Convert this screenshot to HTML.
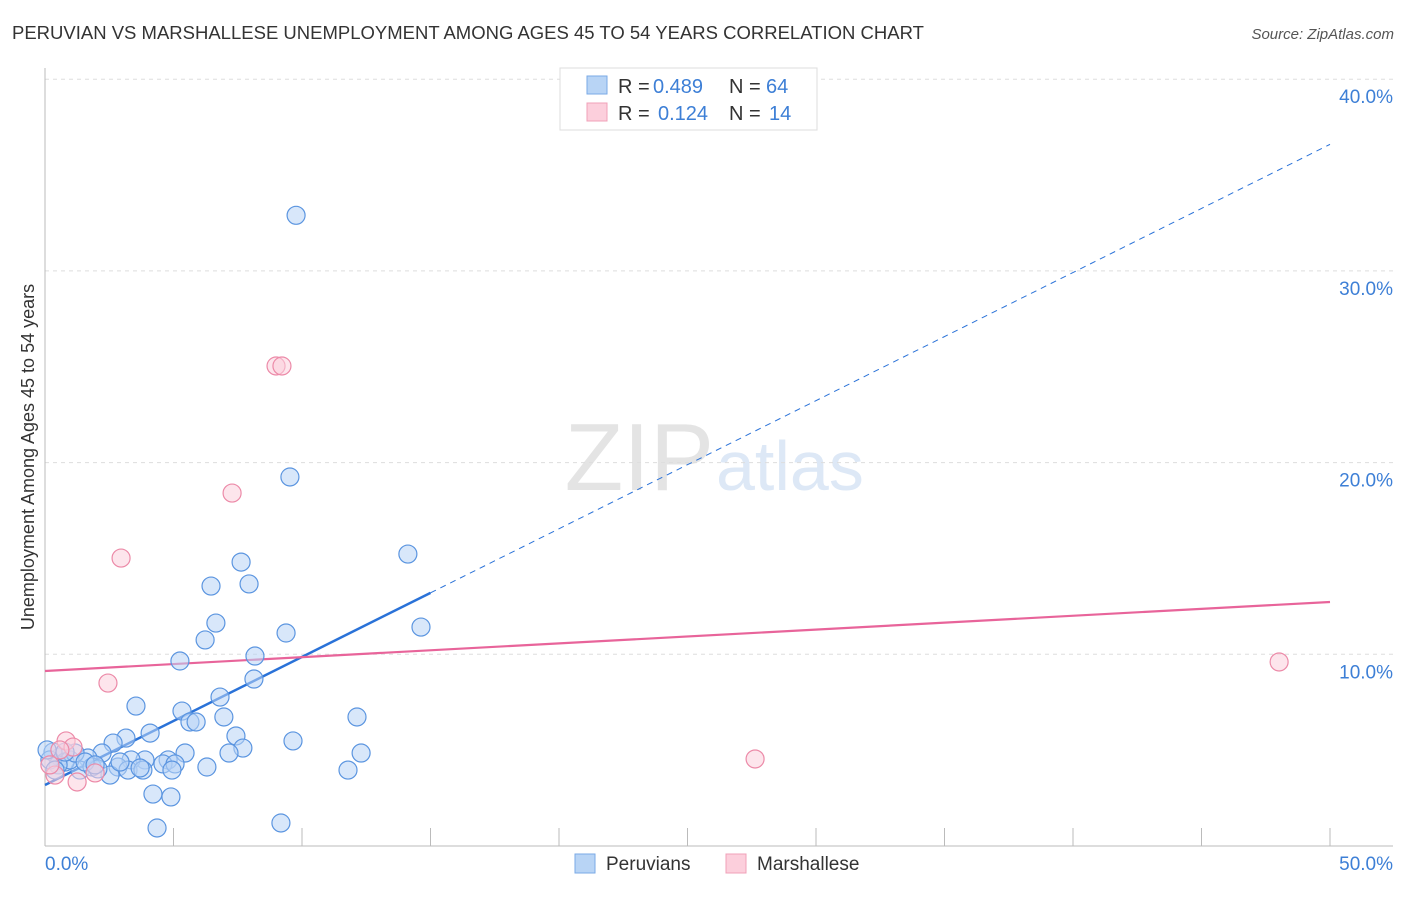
<!DOCTYPE html>
<html><head><meta charset="utf-8"><style>
body{margin:0;background:#fff;font-family:"Liberation Sans",sans-serif}
svg text{font-family:"Liberation Sans",sans-serif}
</style></head><body>
<svg id="chart" width="1406" height="892" xmlns="http://www.w3.org/2000/svg">
<text x="12" y="39" font-size="18.5" fill="#333">PERUVIAN VS MARSHALLESE UNEMPLOYMENT AMONG AGES 45 TO 54 YEARS CORRELATION CHART</text>
<text x="1394" y="39" font-size="15" fill="#555" font-style="italic" text-anchor="end">Source: ZipAtlas.com</text>
<text x="714" y="490" font-size="96" fill="#e4e4e4" text-anchor="end" font-family="Liberation Serif">ZIP</text>
<text x="716" y="490" font-size="70" fill="#dde8f6">atlas</text>
<text transform="translate(34,457) rotate(-90)" font-size="18" fill="#333" text-anchor="middle">Unemployment Among Ages 45 to 54 years</text>
<g id="grid"></g><g id="axes"></g><g id="lines"></g><g id="pts"></g>
<g font-size="20">
<rect x="560" y="68" width="257" height="62" fill="#fff" stroke="#ddd"/>
<rect x="587" y="76" width="20" height="18" fill="#b8d4f5" stroke="#7aaae6"/>
<rect x="587" y="103" width="20" height="18" fill="#fccfdc" stroke="#f0a0b8"/>
<text x="618" y="93" fill="#333">R =</text><text x="653" y="93" fill="#3d7fd6">0.489</text>
<text x="729" y="93" fill="#333">N =</text><text x="766" y="93" fill="#3d7fd6">64</text>
<text x="618" y="120" fill="#333">R =</text><text x="658" y="120" fill="#3d7fd6">0.124</text>
<text x="729" y="120" fill="#333">N =</text><text x="769" y="120" fill="#3d7fd6">14</text>
</g>
<g>
<rect x="575" y="854" width="20" height="19" fill="#b8d4f5" stroke="#7aaae6"/>
<text x="606" y="870" font-size="19" fill="#333">Peruvians</text>
<rect x="726" y="854" width="20" height="19" fill="#fccfdc" stroke="#f0a0b8"/>
<text x="757" y="870" font-size="19" fill="#333">Marshallese</text>
</g>
</svg>
<script>
const yTicks=[10,20,30,40];
const yTickLabels=["10.0%","20.0%","30.0%","40.0%"];
const xTickLabels=["0.0%","50.0%"];
const peruX=[9.77,9.53,14.12,14.63,7.63,6.46,7.94,6.65,6.23,9.38,8.17,5.25,8.13,6.81,3.54,5.33,5.64,5.88,6.96,12.14,4.09,7.43,3.15,9.65,2.65,7.70,5.45,7.16,12.30,2.22,1.67,3.89,4.79,3.35,4.59,5.06,6.30,2.84,3.23,3.81,11.79,2.53,1.36,1.83,2.06,0.58,0.31,0.78,0.97,1.17,0.51,0.19,4.20,4.90,4.36,9.18,1.56,0.78,0.08,0.39,1.95,2.92,3.70,4.94];
const peruY=[32.9,19.25,15.23,11.42,14.81,13.56,13.67,11.63,10.75,11.11,9.91,9.65,8.71,7.77,7.30,7.04,6.47,6.47,6.73,6.73,5.89,5.74,5.63,5.48,5.37,5.11,4.85,4.85,4.85,4.85,4.59,4.49,4.49,4.49,4.28,4.28,4.12,4.12,3.96,3.96,3.96,3.70,3.96,4.12,4.02,4.64,4.90,4.38,4.49,4.85,4.23,4.49,2.71,2.56,0.94,1.20,4.38,4.90,5.01,3.96,4.23,4.38,4.07,3.96];
const marshX=[8.99,9.22,7.28,2.96,2.45,48.02,27.63,0.82,1.09,0.58,0.39,1.25,1.95,0.19];
const marshY=[25.04,25.04,18.41,15.02,8.50,9.60,4.54,5.48,5.16,5.01,3.70,3.34,3.81,4.23];
const peruFit=[3.18,36.6];
const marshFit=[9.13,12.73];
const NS="http://www.w3.org/2000/svg";
const sx=v=>45+v*25.7, sy=v=>846-v*19.17;
function mk(t,a,p){const e=document.createElementNS(NS,t);for(const k in a)e.setAttribute(k,a[k]);document.getElementById(p).appendChild(e);return e;}
yTicks.forEach((t,i)=>{
 let l=mk('line',{x1:45,x2:1393,y1:sy(t),y2:sy(t),stroke:'#ddd','stroke-dasharray':'4,4'},'grid');
 
 
 let tx=mk('text',{x:1393,y:sy(t)+24,'font-size':19,fill:'#3d7fd6','text-anchor':'end'},'grid');
 tx.textContent=yTickLabels[i];
 
 
});
let ya=mk('line',{x1:45,x2:45,y1:68,y2:846,stroke:'#bbb'},'axes');


let xa=mk('line',{x1:45,x2:1393,y1:846,y2:846,stroke:'#bbb'},'axes');


for(let v=5;v<=50;v+=5){let t=mk('line',{x1:sx(v),x2:sx(v),y1:828,y2:846,stroke:'#bbb'},'axes');
 
 }
[[0,'start',45],[50,'end',1393]].forEach((d,i)=>{let t=mk('text',{x:d[2],y:870,'font-size':19,fill:'#3d7fd6','text-anchor':d[1]},'axes');t.textContent=xTickLabels[i];
 
 });
function pts(X,Y,f,s,n){X.forEach((x,i)=>{let c=mk('circle',{cx:sx(x),cy:sy(Y[i]),r:9,fill:f,'fill-opacity':0.55,stroke:s,'stroke-width':1.2},'pts');
 
 });}
pts(peruX,peruY,'#b8d4f5','#5b95e0','peruvian-point');
pts(marshX,marshY,'#fccfdc','#ec8aa8','marshallese-point');
const pAt=x=>peruFit[0]+(peruFit[1]-peruFit[0])*x/50;
let l1=mk('line',{x1:sx(0),y1:sy(pAt(0)),x2:sx(15),y2:sy(pAt(15)),stroke:'#2a72d8','stroke-width':2.5},'lines');


let l2=mk('line',{x1:sx(15),y1:sy(pAt(15)),x2:sx(50),y2:sy(pAt(50)),stroke:'#2a72d8','stroke-width':1,'stroke-dasharray':'6,5'},'lines');


let l3=mk('line',{x1:sx(0),y1:sy(marshFit[0]),x2:sx(50),y2:sy(marshFit[1]),stroke:'#e8649a','stroke-width':2.2},'lines');


</script>
</body></html>
